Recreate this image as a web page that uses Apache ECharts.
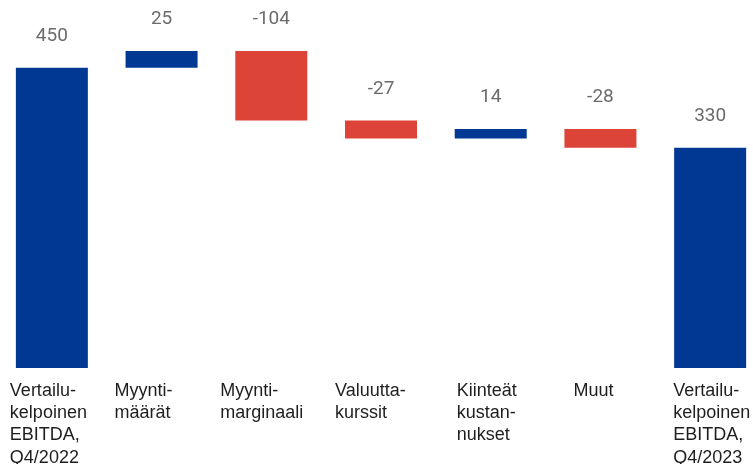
<!DOCTYPE html>
<html>
<head>
<meta charset="utf-8">
<script src="https://cdn.jsdelivr.net/npm/echarts@6/dist/echarts.min.js"></script>
<style>
  html, body { margin: 0; padding: 0; background: #fff; }
  #chart { width: 753px; height: 464px; }
</style>
</head>
<body>
<div id="chart"></div>
<script>
  // kategoriat
  const categories = [
    'Vertailu-\nkelpoinen\nEBITDA,\nQ4/2022',
    'Myynti-\nmäärät',
    'Myynti-\nmarginaali',
    'Valuutta-\nkurssit',
    'Kiinteät\nkustan-\nnukset',
    'Muut',
    'Vertailu-\nkelpoinen\nEBITDA,\nQ4/2023'
  ]
  // muutokset, ensimmäinen ja viimeinen ovat summia
  const values = [450, 25, -104, -27, 14, -28, 330]
  const isTotal = [true, false, false, false, false, false, true]
  // pieni vaakasiirto tekstille
  const labelShift = [9, 4, 0, 5, 17, 24, 14]

  const blue = '#003894'
  const red = '#dc4437'

  let running = 0
  const baseData = []
  const barData = []
  values.forEach((v, i) => {
    if (isTotal[i]) {
      baseData.push(0)
      barData.push({ value: v, itemStyle: { color: blue } })
      running = v
    } else {
      const start = running
      running += v
      baseData.push(Math.min(start, running))
      barData.push({ value: Math.abs(v), itemStyle: { color: v >= 0 ? blue : red } })
    }
  })

  const chart = echarts.init(document.getElementById('chart'))
  chart.setOption({
    animation: false,
    grid: [
      { left: -3, top: 1, width: 768, height: 367, outerBoundsMode: 'none', containLabel: false },
      { left: -54, top: 1, width: 768, height: 367, outerBoundsMode: 'none', containLabel: false }
    ],
    xAxis: [
      {
        type: 'category',
        gridIndex: 0,
        data: categories,
        axisLine: { show: false },
        axisTick: { show: false },
        axisLabel: { show: false }
      },
      {
        type: 'category',
        gridIndex: 1,
        data: categories.map((c, i) => ({
          value: c,
          textStyle: { align: 'left', padding: [0, 0, 0, labelShift[i]] }
        })),
        axisLine: { show: false },
        axisTick: { show: false },
        axisLabel: {
          interval: 0,
          align: 'left',
          verticalAlign: 'top',
          margin: 12,
          fontFamily: 'Liberation Sans',
          fontSize: 18,
          lineHeight: 22.2,
          color: '#1e1e1e'
        }
      }
    ],
    yAxis: [
      { type: 'value', gridIndex: 0, min: 0, max: 550, show: false },
      { type: 'value', gridIndex: 1, min: 0, max: 550, show: false }
    ],
    series: [
      {
        type: 'bar',
        stack: 'wf',
        data: baseData,
        barWidth: 72,
        itemStyle: { color: 'transparent' },
        emphasis: { disabled: true },
        silent: true
      },
      {
        type: 'bar',
        stack: 'wf',
        data: barData,
        barWidth: 72,
        label: {
          show: true,
          position: 'top',
          distance: 22,
          fontFamily: 'Roboto',
          fontSize: 19,
          color: '#6b6b6b',
          formatter: (p) => String(values[p.dataIndex])
        }
      }
    ]
  })
</script>
</body>
</html>
